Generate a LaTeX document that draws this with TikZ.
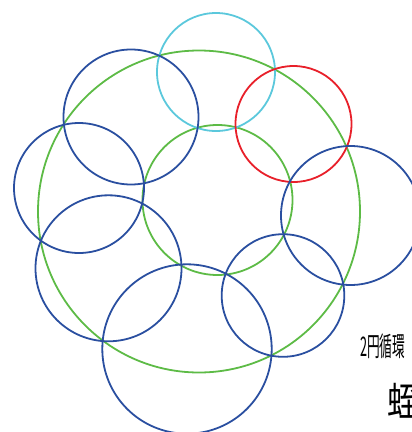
\documentclass[tikz,border=0pt]{standalone}
\usepackage{fontspec}
\usepackage{graphicx}
\newfontfamily\cjk{Noto Sans CJK JP}
\definecolor{ringblue}{HTML}{2A4FA0}
\definecolor{ringgreen}{HTML}{5DBB46}
\definecolor{ringcyan}{HTML}{5BC8DC}
\definecolor{ringred}{HTML}{E8202A}
\tikzset{
  ring/.style={line width=1.8pt},
  lbl/.style={anchor=west, inner sep=0pt, font=\cjk}
}
\begin{document}
\begin{tikzpicture}[x=1pt,y=-1pt]
\clip (0,0) rectangle (412,432);
\useasboundingbox (0,0) rectangle (412,432);
% green circles
\draw[ring, ringgreen] (199,211.5) circle (161);
\draw[ring, ringgreen] (217.5,200) circle (75);
% cyan and red
\draw[ring, ringcyan] (216,72) circle (59);
\draw[ring, ringred] (293.5,124) circle (58);
% blue circles
\draw[ring, ringblue] (131,117) circle (67.5);
\draw[ring, ringblue] (79,188) circle (65);
\draw[ring, ringblue] (108.5,268.3) circle (73);
\draw[ring, ringblue] (187,349) circle (84.7);
\draw[ring, ringblue] (283,295.5) circle (61.3);
\draw[ring, ringblue] (350.5,215.5) circle (69.5);
% texts
\node[lbl, font=\cjk\fontsize{27}{27}\selectfont] (t1) at (360,346) {\scalebox{0.47}[1]{2円循環}};
\node[lbl, font=\cjk\fontsize{40}{40}\selectfont] (t2) at (387,401) {\scalebox{0.8}[1]{蛭}};
\end{tikzpicture}
\end{document}
